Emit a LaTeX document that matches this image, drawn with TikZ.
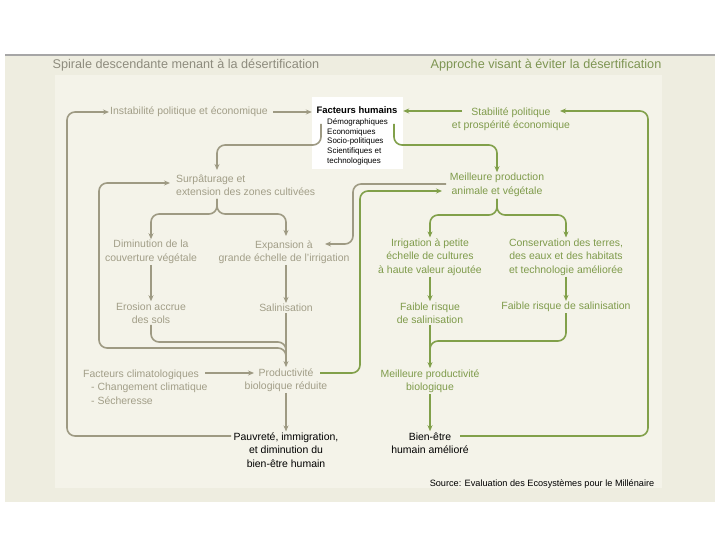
\documentclass[tikz,border=0pt]{standalone}
\usepackage{fontspec}
\setmainfont{Liberation Sans}
\usetikzlibrary{arrows.meta,calc}
\definecolor{bgout}{HTML}{EEEDE0}
\definecolor{bgin}{HTML}{F4F3E9}
\definecolor{gline}{HTML}{9E9A83}
\definecolor{gtext}{HTML}{A29E88}
\definecolor{gtitle}{HTML}{8E8C7E}
\definecolor{vline}{HTML}{81A04A}
\definecolor{vtext}{HTML}{7F9B4B}
\definecolor{vtitle}{HTML}{7E9553}
\begin{document}
\begin{tikzpicture}[x=1bp,y=-1bp,
  txt/.style={align=center,inner sep=1bp,font=\fontsize{10.5}{13.5}\selectfont},
  lt/.style={txt,text=gtext},
  rt/.style={txt,text=vtext},
  bt/.style={txt,text=black},
  gcon/.style={draw=gline,line width=1.6bp,rounded corners=8bp},
  vcon/.style={draw=vline,line width=1.6bp,rounded corners=8bp},
  arr/.style={-{Stealth[length=6bp,width=5bp]}},
]
\useasboundingbox (0,0) rectangle (720,540);
\fill[white] (0,0) rectangle (720,540);
\fill[bgout] (5,55) rectangle (715,502);
\fill[bgin] (55,75) rectangle (662,488);
\draw[gray!70,line width=2bp] (5,55) -- (715,55);

% titles
\node[font=\fontsize{12.7}{15}\selectfont,text=gtitle] (titleL) at (186,65) {Spirale descendante menant à la désertification};
\node[font=\fontsize{12.7}{15}\selectfont,text=vtitle] (titleR) at (546,65) {Approche visant à éviter la désertification};

% central box
\node[fill=white,minimum width=91bp,minimum height=72bp,inner sep=0] (fh) at (357.5,133) {};
\node[font=\bfseries\fontsize{9.5}{11}\selectfont,inner sep=0] (fhT) at (357,110) {Facteurs humains};
\node[anchor=north west,align=left,inner sep=0,font=\fontsize{8}{10}\selectfont] (fhL) at (327,118) {Démographiques\\Economiques\\Socio-politiques\\Scientifiques et\\technologiques};

% left texts
\node[lt] (instab) at (189,112) {Instabilité politique et économique};
\node[lt,anchor=west,align=left] (surp) at (175,185) {Surpâturage et\\extension des zones cultivées};
\node[lt] (dimin) at (151,252) {Diminution de la\\couverture végétale};
\node[lt] (expan) at (284,252) {Expansion à\\grande échelle de l'irrigation};
\node[lt] (eros) at (151,313) {Erosion accrue\\des sols};
\node[lt] (salin) at (286,308) {Salinisation};
\node[lt,anchor=west,align=left] (fclim) at (82,387) {Facteurs climatologiques\\\hspace*{8bp}- Changement climatique\\\hspace*{8bp}- Sécheresse};
\node[lt] (prodr) at (286,380) {Productivité\\biologique réduite};
\node[bt] (pauv) at (286,450) {Pauvreté, immigration,\\et diminution du\\bien-être humain};

% right texts
\node[rt] (stab) at (511,119) {Stabilité politique\\et prospérité économique};
\node[rt] (meil) at (497,185) {Meilleure production\\animale et végétale};
\node[rt] (irrig) at (430,257) {Irrigation à petite\\échelle de cultures\\à haute valeur ajoutée};
\node[rt] (cons) at (566,257) {Conservation des terres,\\des eaux et des habitats\\et technologie améliorée};
\node[rt] (faibL) at (430,313) {Faible risque\\de salinisation};
\node[rt] (faibR) at (566,307) {Faible risque de salinisation};
\node[rt] (meilp) at (430,381) {Meilleure productivité\\biologique};
\node[bt] (bien) at (430,443) {Bien-être\\humain amélioré};
\node[bt,font=\fontsize{9.2}{11}\selectfont] (src) at (542,484) {Source: Evaluation des Ecosystèmes pour le Millénaire};

% coordinates
\coordinate (pauvW) at (231,436);
\coordinate (fhLs) at (321,124);
\coordinate (surpTop) at (217,170);
\coordinate (surpB) at (217,199);
\coordinate (prodMerge) at (286,357);
\coordinate (surpIn) at (170,183);
\coordinate (fcE) at (205,373);
\coordinate (prodW) at (254,373);
\coordinate (gS) at (446,184);
\coordinate (expE) at (325,244);
\coordinate (stW) at (462,111);
\coordinate (bienE) at (460,436);
\coordinate (stE) at (560,111);
\coordinate (fhRs) at (394,124);
\coordinate (meilB) at (497,199);
\coordinate (prE) at (320,373);
\coordinate (meilIn) at (442,191);
\coordinate (mpMerge) at (430,358);

% grey connectors
\draw[gcon,arr] ($(instab.east)+(4,0)$) -- (instab.east -| fh.west);
\draw[gcon,arr] (pauvW) -- (67,436) -- (67,112) -- (instab.west);
\draw[gcon,arr] (fhLs) -- (321,145) -- (217,145) -- (surpTop);
\draw[gcon,arr] (surpB) -- (217,214) -- (151,214) -- (dimin.north);
\draw[gcon,arr] (surpB) -- (217,214) -- (286,214) -- (286,236);
\draw[gcon,arr] (dimin.south) -- (eros.north);
\draw[gcon,arr] (salin.north |- expan.south) -- (salin.north);
\draw[gcon] (eros.south) -- (151,342) -- (286,342) -- (prodMerge);
\draw[gcon,arr] (prodMerge) -- (286,348) -- (99,348) -- (99,183) -- (surpIn);
\draw[gcon,arr] (salin.south) -- (prodr.north);
\draw[gcon,arr] (fcE) -- (prodW);
\draw[gcon,arr] (prodr.south) -- (pauv.north);
\draw[gcon,arr] (gS) -- (353,184) -- (353,244) -- (expE);

% green connectors
\draw[vcon,arr] (stW) -- (stW -| fh.east);
\draw[vcon,arr] (bienE) -- (648,436) -- (648,111) -- (stE);
\draw[vcon,arr] (fhRs) -- (394,145) -- (497,145) -- (meil.north);
\draw[vcon,arr] (meilB) -- (497,215) -- (430,215) -- (irrig.north);
\draw[vcon,arr] (meilB) -- (497,215) -- (566,215) -- (cons.north);
\draw[vcon,arr] (irrig.south) -- (faibL.north);
\draw[vcon,arr] (cons.south) -- (faibR.north);
\draw[vcon,arr] (faibL.south) -- (meilp.north);
\draw[vcon] (faibR.south) -- (566,341) -- (430,341) -- (mpMerge);
\draw[vcon,arr] (meilp.south) -- (bien.north);
\draw[vcon,arr] (prE) -- (360,373) -- (360,191) -- (meilIn);
\end{tikzpicture}
\end{document}
